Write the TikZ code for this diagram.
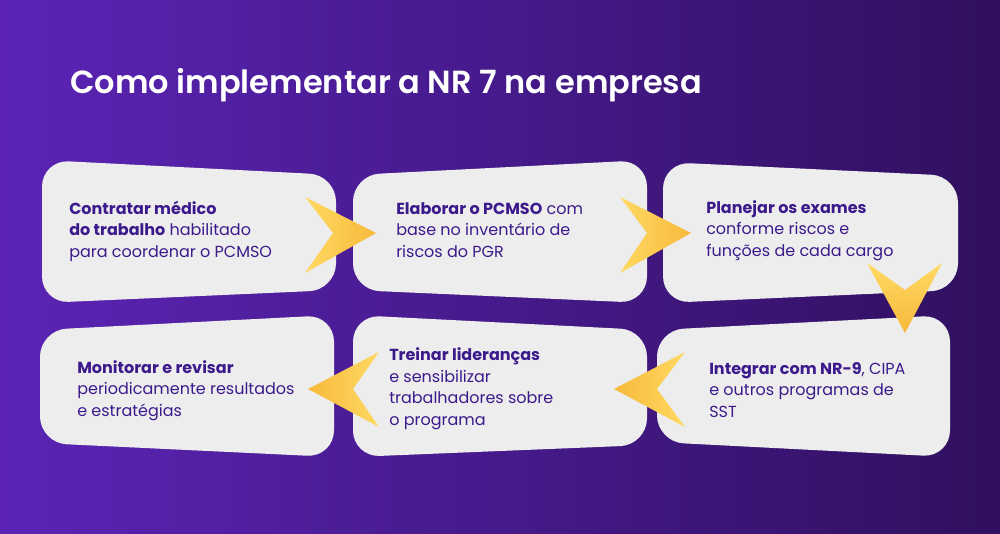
\documentclass[tikz,border=0pt]{standalone}
\usepackage{fontspec}
\setmainfont{Poppins}
\newfontfamily\titlefont{Poppins SemiBold}
\definecolor{bgleft}{HTML}{5B24B6}
\definecolor{bgright}{HTML}{30105F}
\definecolor{cardgray}{HTML}{EDEDED}
\definecolor{inkpurple}{HTML}{3C1A8C}
\definecolor{chevlight}{HTML}{FFD962}
\definecolor{chevdark}{HTML}{F7B93C}
\begin{document}
\begin{tikzpicture}[x=0.75pt,y=-0.75pt,
	card/.style={fill=cardgray,rounded corners=20pt},
	steptext/.style={anchor=base west,inner sep=0pt,align=left,text=inkpurple,font=\fontsize{12}{16.1}\selectfont}]
		\useasboundingbox (0,0) rectangle (1000,533);
		\shade[left color=bgleft,right color=bgright] (0,0) rectangle (1000,533);
		\node[anchor=base west,inner sep=0pt,text=white,font=\fontsize{24}{30}\titlefont](title) at (70,93){Como implementar a NR 7 na empresa};
		% cards
		\fill[card] (42,230) -- (42,160) -- (336,175) -- (336,290) -- (42,303) -- cycle;
		\fill[card] (353,230) -- (353,175) -- (647,160) -- (647,303) -- (353,290) -- cycle;
		\fill[card] (663,230) -- (663,162) -- (958,176) -- (958,290) -- (663,303) -- cycle;
		\fill[card] (40,390) -- (40,330) -- (334,315) -- (334,457) -- (40,443) -- cycle;
		\fill[card] (353,390) -- (353,315) -- (647,330) -- (647,445) -- (353,457) -- cycle;
		\fill[card] (657,390) -- (657,330) -- (950,315) -- (950,457) -- (657,442) -- cycle;
		% texts (anchored at the baseline of the last line)
		\node[steptext](s1) at (69,257){\textbf{Contratar médico}\\\textbf{do trabalho} habilitado\\para coordenar o PCMSO};
		\node[steptext](s2) at (396,257){\textbf{Elaborar o PCMSO} com\\base no inventário de\\riscos do PGR};
		\node[steptext](s3) at (706,256){\textbf{Planejar os exames}\\conforme riscos e\\funções de cada cargo};
		\node[steptext](s4) at (77,416){\textbf{Monitorar e revisar}\\periodicamente resultados\\e estratégias};
		\node[steptext](s5) at (389,425){\textbf{Treinar lideranças}\\e sensibilizar\\trabalhadores sobre\\o programa};
		\node[steptext](s6) at (709,417){\textbf{Integrar com NR-9}, CIPA\\e outros programas de\\SST};
		% chevrons
		\shade[left color=chevlight,right color=chevdark] (305,197) -- (376,233) -- (305,273) -- (333,233) -- cycle;
		\shade[left color=chevlight,right color=chevdark] (620,197) -- (691,233) -- (620,273) -- (647,233) -- cycle;
		\shade[top color=chevlight,bottom color=chevdark] (867,263) -- (905,333) -- (942,263) -- (905,290) -- cycle;
		\shade[left color=chevdark,right color=chevlight] (685,352) -- (614,389) -- (685,427) -- (657,389) -- cycle;
		\shade[left color=chevdark,right color=chevlight] (379,352) -- (308,389) -- (379,427) -- (353,389) -- cycle;
	\end{tikzpicture}
\end{document}
